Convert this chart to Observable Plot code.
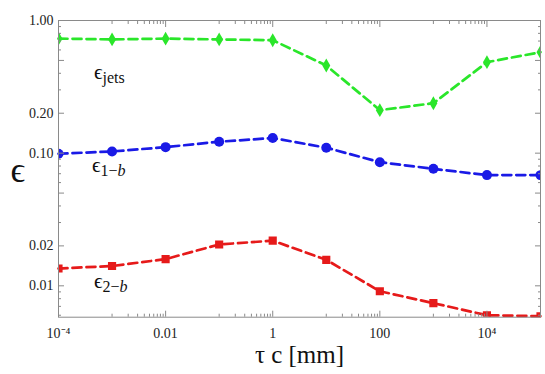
<!DOCTYPE html>
<html>
<head>
<meta charset="utf-8">
<script src="https://cdn.jsdelivr.net/npm/d3@7"></script>
<script src="https://cdn.jsdelivr.net/npm/@observablehq/plot@0.6"></script>
<style>
  html, body { margin: 0; padding: 0; background: #fff; }
</style>
</head>
<body>
<div id="chart"></div>
<script>
// ---- data ----
const tau = [1e-4, 1e-3, 1e-2, 0.1, 1, 10, 100, 1e3, 1e4, 1e5];
const effJets = [0.73, 0.72, 0.73, 0.72, 0.71, 0.458, 0.211, 0.238, 0.485, 0.577];
const eff1b = [0.099, 0.103, 0.111, 0.122, 0.130, 0.110, 0.0855, 0.0762, 0.0683, 0.0683];
const eff2b = [0.0135, 0.0141, 0.0159, 0.0205, 0.0219, 0.0157, 0.0091, 0.0074, 0.0060, 0.0059];

const xTicks = [1e-4, 0.01, 1, 100, 1e4];
const xTickLabels = ["10⁻⁴", "0.01", "1", "100", "10⁴"];
const xMinor = [1e-3,2e-3,3e-3,4e-3,5e-3,6e-3,7e-3,8e-3,9e-3,
                0.1,0.2,0.3,0.4,0.5,0.6,0.7,0.8,0.9,
                10,20,30,40,50,60,70,80,90,
                1000,2000,3000,4000,5000,6000,7000,8000,9000];
const yTicks = [0.01, 0.02, 0.05, 0.1, 0.2, 0.5, 1];
const yTickLabels = ["0.01", "0.02", "0.05", "0.10", "0.20", "0.50", "1.00"];
const yMinor = [0.006,0.007,0.008,0.009,0.03,0.04,0.06,0.07,0.08,0.09,0.3,0.4,0.6,0.7,0.8,0.9];

const seriesColors = ["#2ae62a", "#1a1ae6", "#e61a1a"];
const seriesLabels = ["ϵ|jets", "ϵ|1−|b", "ϵ|2−|b"];
const labelX = [4.6e-4, 4.2e-4, 4.6e-4];
const labelY = [0.405, 0.0806, 0.01075];

const rows = [];
tau.forEach((t, i) => {
  rows.push({tau: t, eff: effJets[i], s: "jets"});
  rows.push({tau: t, eff: eff1b[i], s: "1b"});
  rows.push({tau: t, eff: eff2b[i], s: "2b"});
});
const labels = seriesLabels.map((t, i) => ({x: labelX[i], y: labelY[i], t}));

const font = "Liberation Serif";
const tickColor = "#8a8a8a";
const xl = d => xTickLabels[xTicks.indexOf(d)];
const yl = d => yTickLabels[yTicks.indexOf(d)];
const blank = () => "";

const lineFor = (s, c) => Plot.line(rows.filter(r => r.s === s), {x: "tau", y: "eff", stroke: c, strokeWidth: 2.7, strokeDasharray: "9,5"});

const plot = Plot.plot({
  width: 545,
  height: 374,
  marginLeft: 58,
  marginRight: 5,
  marginTop: 20,
  marginBottom: 57.3,
  x: {type: "log", domain: [1e-4, 1e5]},
  y: {type: "log", domain: [0.0058, 1]},
  marks: [
    lineFor("jets", seriesColors[0]),
    lineFor("1b", seriesColors[1]),
    lineFor("2b", seriesColors[2]),
    Plot.dot(rows.filter(r => r.s === "jets"), {x: "tau", y: "eff", symbol: "diamond", r: 4.2, fill: seriesColors[0], clip: true}),
    Plot.dot(rows.filter(r => r.s === "1b"), {x: "tau", y: "eff", symbol: "circle", r: 5, fill: seriesColors[1], clip: true}),
    Plot.dot(rows.filter(r => r.s === "2b"), {x: "tau", y: "eff", symbol: "square", r: 4.6, fill: seriesColors[2], clip: true}),
    Plot.frame({stroke: tickColor, strokeWidth: 1}),
    // tick marks (inward)
    Plot.axisX({anchor: "bottom", ticks: xTicks, tickSize: -6, tickFormat: blank, color: tickColor, label: null}),
    Plot.axisX({anchor: "bottom", ticks: xMinor, tickSize: -3, tickFormat: blank, color: tickColor, label: null}),
    Plot.axisX({anchor: "top", ticks: xTicks, tickSize: -6, tickFormat: blank, color: tickColor, label: null}),
    Plot.axisX({anchor: "top", ticks: xMinor, tickSize: -3, tickFormat: blank, color: tickColor, label: null}),
    Plot.axisY({anchor: "left", ticks: yTicks, tickSize: -6, tickFormat: blank, color: tickColor, label: null}),
    Plot.axisY({anchor: "left", ticks: yMinor, tickSize: -3, tickFormat: blank, color: tickColor, label: null}),
    Plot.axisY({anchor: "right", ticks: yTicks, tickSize: -6, tickFormat: blank, color: tickColor, label: null}),
    Plot.axisY({anchor: "right", ticks: yMinor, tickSize: -3, tickFormat: blank, color: tickColor, label: null}),
    // tick labels
    Plot.axisX({anchor: "bottom", ticks: xTicks, tickSize: 0, tickPadding: 11, tickFormat: xl, fill: "#222", label: null, fontSize: 14, fontFamily: font}),
    Plot.axisY({anchor: "left", ticks: yTicks, tickSize: 0, tickPadding: 5, tickFormat: yl, fill: "#222", label: null, fontSize: 14, fontFamily: font}),
    // axis titles
    Plot.text(["τ c [mm]"], {frameAnchor: "bottom", dy: 46, fontSize: 25, fill: "#111", fontFamily: font}),
    Plot.text(["ϵ"], {frameAnchor: "left", dx: -48, dy: 2, fontSize: 36, fill: "#111", fontFamily: font}),
    // series labels
    Plot.text(labels, {x: "x", y: "y", text: "t", textAnchor: "start", fontSize: 21, fill: "#111", fontFamily: font})
  ]
});

// turn "ϵ|sub|italic" labels into rich text
plot.querySelectorAll("text").forEach(el => {
  const s = el.textContent;
  if (!s.includes("|")) return;
  const parts = s.split("|");
  el.textContent = "";
  const ns = "http://www.w3.org/2000/svg";
  const main = document.createElementNS(ns, "tspan");
  main.textContent = parts[0];
  el.appendChild(main);
  const sub = document.createElementNS(ns, "tspan");
  sub.textContent = parts[1];
  sub.setAttribute("font-size", "16");
  sub.setAttribute("dy", "4");
  el.appendChild(sub);
  if (parts[2]) {
    const it = document.createElementNS(ns, "tspan");
    it.textContent = parts[2];
    it.setAttribute("font-size", "16");
    it.setAttribute("font-style", "italic");
    el.appendChild(it);
  }
});
plot.setAttribute("font-family", font);

document.getElementById("chart").appendChild(plot);
</script>
</body>
</html>
